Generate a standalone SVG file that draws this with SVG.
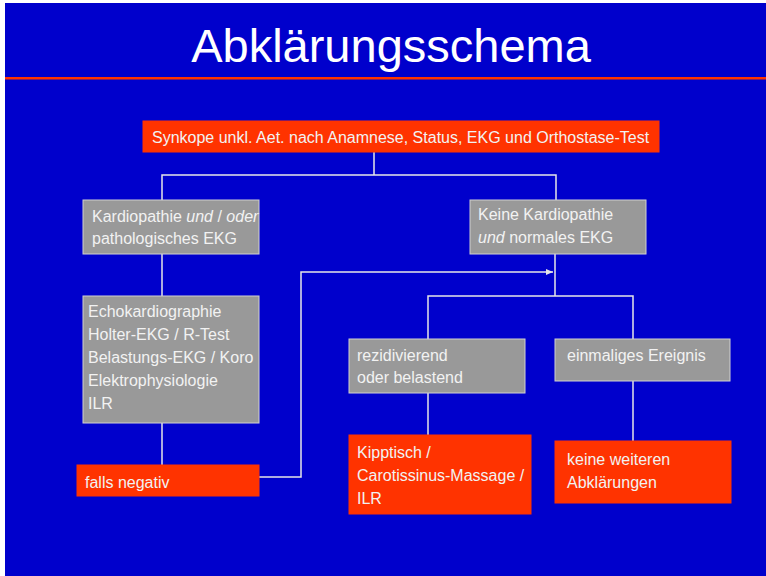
<svg xmlns="http://www.w3.org/2000/svg" width="766" height="576" viewBox="0 0 766 576">
<style>
text{font-family:"Liberation Sans",Arial,sans-serif;fill:#f2f2f2;font-size:16px}
.title{font-size:47px;fill:#ffffff}
.gray{fill:#999999;stroke:#d0d0d0;stroke-width:1}
.red{fill:#ff3300;stroke:#ff3300;stroke-width:1}
.con{fill:none;stroke:#e6e6e6;stroke-width:1.5}
</style>
<defs>
<marker id="arr" markerWidth="8" markerHeight="8" refX="7" refY="3" orient="auto" markerUnits="userSpaceOnUse">
<path d="M0,0 L7,3 L0,6 Z" fill="#e6e6e6"/>
</marker>
</defs>
<rect x="0" y="0" width="766" height="576" fill="#ffffff"/>
<rect x="5" y="3" width="761" height="573" fill="#0000cc"/>
<text class="title" x="391" y="62" text-anchor="middle">Abklärungsschema</text>
<rect x="5" y="77" width="761" height="2.5" fill="#ff3300"/>
<g id="connectors">
<path class="con" d="M374,152 V175 M162,200 V175 H556 V200"/>
<path class="con" d="M162,254 V296"/>
<path class="con" d="M162,423 V465"/>
<path class="con" d="M259,477 H301 V272 H553" marker-end="url(#arr)"/>
<path class="con" d="M555,254 V296 M428,339 V296 H633 V339"/>
<path class="con" d="M428,393 V435"/>
<path class="con" d="M633,381 V441"/>
</g>
<g id="n_start">
<rect class="red" x="143" y="121" width="516" height="31"/>
<text x="152" y="143">Synkope unkl. Aet. nach Anamnese, Status, EKG und Orthostase-Test</text>
</g>
<g id="n_kardio">
<rect class="gray" x="83" y="200" width="176" height="54"/>
<text x="92" y="222">Kardiopathie <tspan font-style="italic">und</tspan> / <tspan font-style="italic">oder</tspan></text>
<text x="92" y="244">pathologisches EKG</text>
</g>
<g id="n_keine">
<rect class="gray" x="470" y="200" width="176" height="54"/>
<text x="478" y="220">Keine Kardiopathie</text>
<text x="478" y="243"><tspan font-style="italic">und</tspan> normales EKG</text>
</g>
<g id="n_echo">
<rect class="gray" x="83" y="296" width="176" height="127"/>
<text x="88" y="317">Echokardiographie</text>
<text x="88" y="340">Holter-EKG / R-Test</text>
<text x="88" y="363">Belastungs-EKG / Koro</text>
<text x="88" y="386">Elektrophysiologie</text>
<text x="88" y="409">ILR</text>
</g>
<g id="n_falls">
<rect class="red" x="77" y="465" width="182" height="31"/>
<text x="85" y="488">falls negativ</text>
</g>
<g id="n_rezid">
<rect class="gray" x="349" y="339" width="176" height="54"/>
<text x="357" y="361">rezidivierend</text>
<text x="357" y="383">oder belastend</text>
</g>
<g id="n_einmal">
<rect class="gray" x="555" y="339" width="175" height="42"/>
<text x="567" y="361">einmaliges Ereignis</text>
</g>
<g id="n_kipp">
<rect class="red" x="349" y="435" width="182" height="79"/>
<text x="357" y="458">Kipptisch /</text>
<text x="357" y="481">Carotissinus-Massage /</text>
<text x="357" y="504">ILR</text>
</g>
<g id="n_keineweit">
<rect class="red" x="555" y="441" width="176" height="62"/>
<text x="567" y="465">keine weiteren</text>
<text x="567" y="488">Abklärungen</text>
</g>
</svg>
